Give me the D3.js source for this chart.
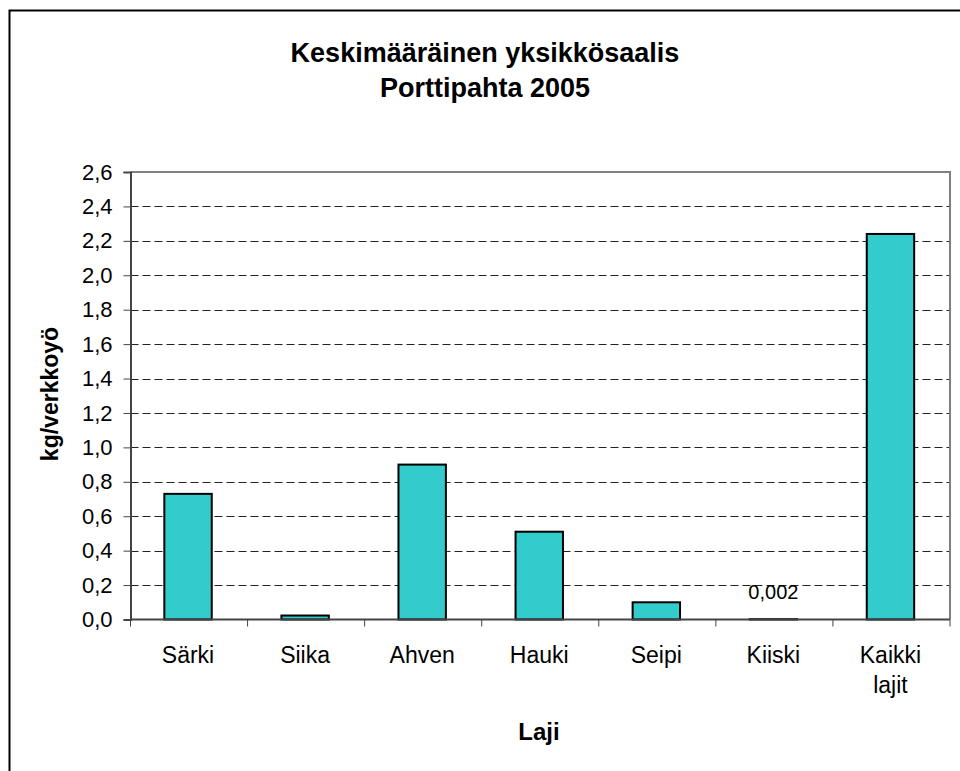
<!DOCTYPE html>
<html>
<head>
<meta charset="utf-8">
<script src="https://cdn.jsdelivr.net/npm/d3@7"></script>
<style>
  body { margin: 0; background: #fff; }
  text { font-family: "Liberation Sans", Arial, sans-serif; fill: #000; }
</style>
</head>
<body>
<div id="chart"></div>
<script>
// species (two-line label for the total)
var lajit = [["Särki"], ["Siika"], ["Ahven"], ["Hauki"], ["Seipi"], ["Kiiski"], ["Kaikki", "lajit"]];
// mean catch per unit effort, kg / net night
var saalis = [0.73, 0.023, 0.90, 0.51, 0.10, 0.002, 2.24];
// which bars carry a value label
var naytaArvo = [false, false, false, false, false, true, false];
var yTicks = [0, 0.2, 0.4, 0.6, 0.8, 1.0, 1.2, 1.4, 1.6, 1.8, 2.0, 2.2, 2.4, 2.6];
var otsikko = ["Keskimääräinen yksikkösaalis", "Porttipahta 2005"];

var W = 960, H = 771;
var plot = { left: 130.5, right: 950, top: 172, bottom: 619.5 };

var fi = d3.formatLocale({ decimal: ",", thousands: " ", grouping: [3], currency: ["", " €"] });
var fmt1 = fi.format(".1f"), fmt3 = fi.format(".3f");

var svg = d3.select("#chart").append("svg")
    .attr("width", W)
    .attr("height", H);

// outer chart frame (runs off the page on right and bottom)
svg.append("rect")
    .attr("x", 9.5).attr("y", 10.5)
    .attr("width", 1000).attr("height", 1000)
    .style("fill", "none")
    .style("stroke", "#000")
    .style("stroke-width", 2);

var x = d3.scaleBand()
    .domain(d3.range(lajit.length))
    .range([plot.left, plot.right])
    .padding(0);

var y = d3.scaleLinear()
    .domain([0, 2.6])
    .range([plot.bottom, plot.top]);

//gridlines
svg.append("g")
    .selectAll("line")
    .data(yTicks.filter(function(d) { return d > 0 && d < 2.6; }))
    .enter().append("line")
    .attr("x1", plot.left).attr("x2", plot.right)
    .attr("y1", function(d) { return Math.round(y(d)) + 0.5; })
    .attr("y2", function(d) { return Math.round(y(d)) + 0.5; })
    .style("stroke", "#222")
    .style("stroke-width", 1)
    .style("stroke-dasharray", "8,4");

// plot border top + right
svg.append("path")
    .attr("d", "M" + plot.left + "," + plot.top + "H" + plot.right + "V" + plot.bottom)
    .style("fill", "none")
    .style("stroke", "#808080")
    .style("stroke-width", 2);

// bars
var barW = x.bandwidth() * 0.405;
svg.append("g")
    .selectAll("rect")
    .data(saalis)
    .enter().append("rect")
    .attr("x", function(d, i) { return x(i) + x.bandwidth() / 2 - barW / 2 - 1; })
    .attr("y", function(d) { return y(d); })
    .attr("width", barW)
    .attr("height", function(d) { return y(0) - y(d); })
    .style("fill", "#33CCCC")
    .style("stroke", "#000")
    .style("stroke-width", 2);

// y axis
var yAxis = d3.axisLeft(y)
    .tickValues(yTicks)
    .tickSize(7)
    .tickPadding(11)
    .tickFormat(fmt1);

var gy = svg.append("g")
    .attr("transform", "translate(" + plot.left + ",0)")
    .call(yAxis);
gy.select(".domain").style("stroke", "#444").style("stroke-width", 2);
gy.selectAll(".tick line").style("stroke", "#444");
gy.selectAll(".tick text")
    .style("font-size", "22px")
    .style("font-family", "'Liberation Sans', Arial, sans-serif")
    .attr("fill", "#000");

// x axis: ticks at the category boundaries
var gx = svg.append("g")
    .attr("transform", "translate(0," + plot.bottom + ")");
gx.append("line")
    .attr("x1", plot.left).attr("x2", plot.right)
    .style("stroke", "#444").style("stroke-width", 2);
gx.selectAll(".xt")
    .data(d3.range(lajit.length + 1))
    .enter().append("line")
    .attr("class", "xt")
    .attr("x1", function(i) { return i < lajit.length ? x(i) : plot.right; })
    .attr("x2", function(i) { return i < lajit.length ? x(i) : plot.right; })
    .attr("y1", 0).attr("y2", 7)
    .style("stroke", "#444");

var xl = svg.append("g").selectAll("text")
    .data(lajit)
    .enter().append("text")
    .attr("x", function(d, i) { return x(i) + x.bandwidth() / 2 - 1; })
    .attr("y", plot.bottom + 43)
    .style("text-anchor", "middle")
    .style("font-size", "23px");
xl.selectAll("tspan")
    .data(function(d) { return d; })
    .enter().append("tspan")
    .attr("x", function() { return d3.select(this.parentNode).attr("x"); })
    .attr("dy", function(d, i) { return i === 0 ? 0 : 30; })
    .text(function(d) { return d; });

// value labels
svg.append("g").selectAll("text")
    .data(saalis)
    .enter().filter(function(d, i) { return naytaArvo[i]; })
    .append("text")
    .attr("x", function(d) { return x(saalis.indexOf(d)) + x.bandwidth() / 2 - 1; })
    .attr("y", function(d) { return y(d) - 20; })
    .style("text-anchor", "middle")
    .style("font-size", "20px")
    .text(function(d) { return fmt3(d); });

// title
svg.append("g").selectAll("text")
    .data(otsikko)
    .enter().append("text")
    .attr("x", 485)
    .attr("y", function(d, i) { return 62 + i * 35; })
    .style("text-anchor", "middle")
    .style("font-size", "27px")
    .style("font-weight", "bold")
    .text(function(d) { return d; });

// axis titles
svg.append("text")
    .attr("transform", "translate(58,394) rotate(-90)")
    .style("text-anchor", "middle")
    .style("font-size", "23px")
    .style("font-weight", "bold")
    .text("kg/verkkoyö");

svg.append("text")
    .attr("x", 539)
    .attr("y", 740)
    .style("text-anchor", "middle")
    .style("font-size", "24px")
    .style("font-weight", "bold")
    .text("Laji");
</script>
</body>
</html>
